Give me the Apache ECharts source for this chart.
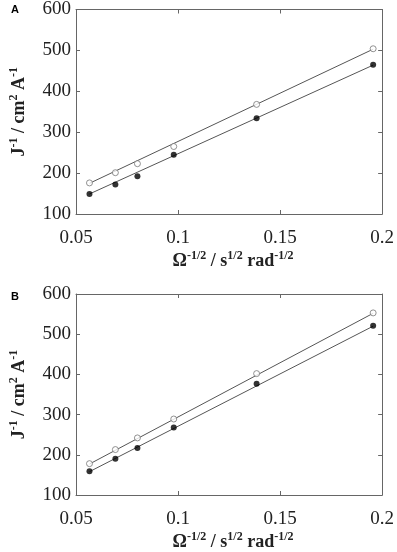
<!DOCTYPE html>
<html><head><meta charset="utf-8">
<script src="https://cdn.jsdelivr.net/npm/echarts@6/dist/echarts.min.js"></script>
<style>html,body{margin:0;padding:0;background:#fff}#c{width:397px;height:552px}</style>
</head><body><div id="c"></div>
<script>
const xVals = [0.0566, 0.0693, 0.0801, 0.0979, 0.1385, 0.1956];
const aOpen = [176, 201, 223, 265, 368, 504];
const aFilled = [149, 172, 192, 245, 334, 465];
const bOpen = [178, 213, 242, 289, 402, 553];
const bFilled = [159, 190, 217, 268, 377, 521];
const fitX = [0.0566, 0.1956];
const aOpenFit = [175, 503];
const aFilledFit = [149, 464];
const bOpenFit = [177, 552];
const bFilledFit = [158, 520];
const xTicks = [0.05, 0.1, 0.15, 0.2];
const yTicks = [100, 200, 300, 400, 500, 600];
const panelLabels = ['A', 'B'];

const pair = (xs, ys) => xs.map((x, i) => [x, ys[i]]);
const chart = echarts.init(document.getElementById('c'), null, {renderer: 'canvas'});
const serif = '"Liberation Serif", "Times New Roman", serif';
const frame = '#666';
const rich = {
  n: {fontFamily: serif, fontSize: 18, fontWeight: 'bold', color: '#222'},
  s: {fontFamily: serif, fontSize: 12, fontWeight: 'bold', color: '#222', padding: [0, 0, 10, 0]}
};
const grids = [
  {left: 67, right: 13, top: 7.5, height: 206.5},
  {left: 67, right: 13, top: 294, height: 206}
];
const xAxes = [], yAxes = [];
grids.forEach((g, gi) => {
  const base = {
    gridIndex: gi, type: 'value', min: 0.05, max: 0.2, interval: 0.05,
    axisLine: {show: true, onZero: false, lineStyle: {color: frame, width: 1}},
    axisTick: {show: true, inside: true, length: 4, lineStyle: {color: frame}},
    splitLine: {show: false}
  };
  xAxes.push(Object.assign({}, base, {
    position: 'bottom',
    axisLabel: {fontFamily: serif, fontSize: 19, color: '#222', margin: 15,
      formatter: v => xTicks.includes(Math.round(v * 100) / 100) ? String(Math.round(v * 100) / 100) : ''},
    name: '{n|Ω}{s|-1/2}{n| / s}{s|1/2}{n| rad}{s|-1/2}',
    nameLocation: 'middle', nameGap: 36,
    nameTextStyle: {rich: rich, padding: [0, 0, 0, 8]}
  }));
  xAxes.push(Object.assign({}, base, {position: 'top', axisLabel: {show: false}}));
  const ybase = {
    gridIndex: gi, type: 'value', min: 100, max: 600, interval: 100,
    axisLine: {show: true, onZero: false, lineStyle: {color: frame, width: 1}},
    axisTick: {show: true, inside: true, length: 4, lineStyle: {color: frame}},
    splitLine: {show: false}
  };
  yAxes.push(Object.assign({}, ybase, {
    position: 'left',
    axisLabel: {fontFamily: serif, fontSize: 19, color: '#222', margin: 5,
      formatter: v => yTicks.includes(v) ? String(v) : ''},
    name: '{n|J}{s|-1}{n| / cm}{s|2}{n| A}{s|-1}',
    nameLocation: 'middle', nameGap: 46, nameRotate: 90,
    nameTextStyle: {rich: rich}
  }));
  yAxes.push(Object.assign({}, ybase, {position: 'right', axisLabel: {show: false}}));
});

const lineS = (gi, ys) => ({
  type: 'line', xAxisIndex: gi * 2, yAxisIndex: gi * 2, data: pair(fitX, ys),
  symbol: 'none', lineStyle: {color: '#555', width: 1}, silent: true, z: 1
});
const ptS = (gi, ys, open) => ({
  type: 'scatter', xAxisIndex: gi * 2, yAxisIndex: gi * 2, data: pair(xVals, ys),
  symbol: 'circle', symbolSize: 6,
  itemStyle: open ? {color: '#fff', borderColor: '#777', borderWidth: 1} : {color: '#000'},
  z: 3
});

chart.setOption({
  animation: false,
  grid: grids,
  xAxis: xAxes,
  yAxis: yAxes,
  graphic: [
    {type: 'text', left: 11, top: 4, style: {text: panelLabels[0], font: 'bold 11px "Liberation Sans"', fill: '#000'}},
    {type: 'text', left: 11, top: 291, style: {text: panelLabels[1], font: 'bold 11px "Liberation Sans"', fill: '#000'}}
  ],
  series: [
    lineS(0, aOpenFit), lineS(0, aFilledFit), ptS(0, aOpen, true), ptS(0, aFilled, false),
    lineS(1, bOpenFit), lineS(1, bFilledFit), ptS(1, bOpen, true), ptS(1, bFilled, false)
  ]
});
</script></body></html>
